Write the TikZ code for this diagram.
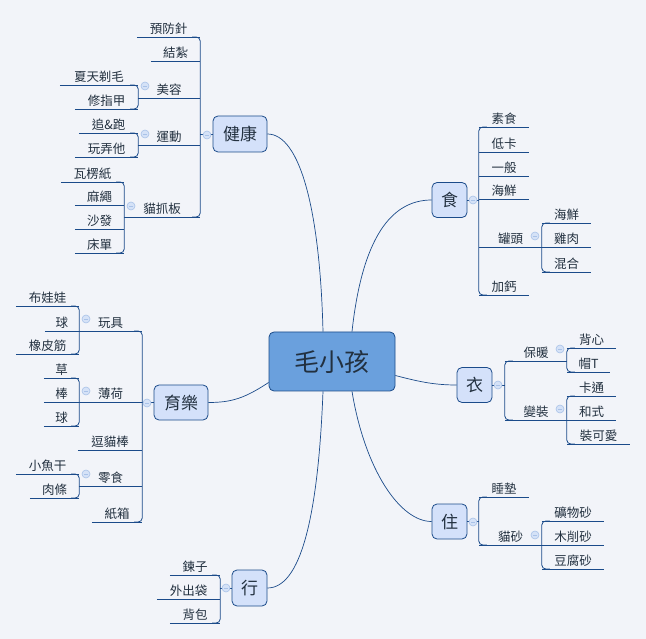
\documentclass[tikz,border=0pt]{standalone}
\usepackage{fontspec}
\newfontfamily\cjk{Noto Sans CJK TC}
\usetikzlibrary{calc}
\definecolor{bg}{HTML}{F2F4F9}
\definecolor{ln}{HTML}{1B4B8A}
\definecolor{bx}{HTML}{D4E1FA}
\definecolor{cbx}{HTML}{6AA0DD}
\definecolor{tx}{HTML}{22303F}
\definecolor{cf}{HTML}{D5E2F7}
\definecolor{cb}{HTML}{A9C2E8}
\tikzset{
  x=1pt,y=-1pt,
  conn/.style={draw=ln,line width=0.8pt},
  leaf/.style={anchor=south,inner xsep=0pt,inner ysep=2.5pt,font=\cjk\fontsize{12.5}{13}\selectfont,text=tx},
  box/.style={draw=ln,line width=0.8pt,fill=bx,rounded corners=5pt,inner sep=0pt,font=\cjk\fontsize{17}{18}\selectfont,text=tx},
  fold/.style={circle,draw=cb,fill=cf,line width=0.6pt,minimum size=8pt,inner sep=0pt,
     path picture={\draw[cb,line width=0.6pt] ($(path picture bounding box.west)+(2pt,0)$) -- ($(path picture bounding box.east)+(-2pt,0)$);}},
}
\newcommand\lf[5]{\node[leaf,minimum width={(#3-#2)*1pt}] (#1) at ({(#2+#3)/2},#4) {#5};
  \draw[conn] (#1.south west) -- (#1.south east);}
\newcommand\rsp[2]{\draw[conn,rounded corners=4pt] ($(#1.south west)+(8,0)$) -| (#2.south west) -- ++(8,0);}
\newcommand\lsp[2]{\draw[conn,rounded corners=4pt] ($(#1.south east)+(-8,0)$) -| (#2.south east) -- ++(-8,0);}
\begin{document}
\begin{tikzpicture}
\useasboundingbox[fill=bg] (0,0) rectangle (646,639);
% central
\node[box,fill=cbx,minimum width=126pt,minimum height=59pt,font=\cjk\fontsize{25}{26}\selectfont] (c) at (332,361.5) {毛小孩};
\node[box,minimum width=54pt,minimum height=36pt] (hk) at (240,134) {健康};
\node[box,minimum width=35pt,minimum height=35pt] (sh) at (449.5,200) {食};
\node[box,minimum width=35pt,minimum height=35pt] (yi) at (474.5,385) {衣};
\node[box,minimum width=35pt,minimum height=35pt] (zh) at (449.5,521.5) {住};
\node[box,minimum width=35pt,minimum height=36pt] (xg) at (249.5,588) {行};
\node[box,minimum width=54pt,minimum height=35pt] (yl) at (181,402.5) {育樂};
% curves
\draw[conn,line width=0.7pt] ($(c.north)+(-9,0)$) .. controls (320,210) and (300,134) .. (hk.east);
\draw[conn,line width=0.7pt] ($(c.north)+(20,0)$) .. controls (362,240) and (390,200) .. (sh.west);
\draw[conn,line width=0.7pt] ($(c.south)+(-9,0)$) .. controls (318,520) and (300,588) .. (xg.east);
\draw[conn,line width=0.7pt] ($(c.south)+(20,0)$) .. controls (365,470) and (400,521.5) .. (zh.west);
\draw[conn,line width=0.7pt] ($(c.east)+(0,14)$) .. controls (420,382) and (435,385) .. (yi.west);
\draw[conn,line width=0.7pt] ($(c.west)+(0,21)$) .. controls (245,398) and (232,402.5) .. (yl.east);
% health
\lf{h1}{137}{200}{37}{預防針}
\lf{h2}{151}{200}{61}{結紮}
\lf{h3}{138}{200}{98}{美容}
\lf{h4}{138}{200}{145}{運動}
\lf{h5}{124}{200}{217}{貓抓板}
\lsp{h1}{h5}
\draw[conn] (hk.west) -- (hk.west -| h1.south east);
\lf{h31}{60}{138}{85}{夏天剃毛}
\lf{h32}{75}{138}{109}{修指甲}
\lsp{h31}{h32}
\lf{h41}{79}{138}{133}{追\&跑}
\lf{h42}{75}{138}{157}{玩弄他}
\lsp{h41}{h42}
\lf{h51}{61}{124}{182}{瓦楞紙}
\lf{h52}{75}{124}{205}{麻繩}
\lf{h53}{75}{124}{229}{沙發}
\lf{h54}{75}{124}{253}{床單}
\lsp{h51}{h54}
% food
\lf{s1}{479}{529}{127}{素食}
\lf{s2}{479}{529}{152}{低卡}
\lf{s3}{479}{529}{176}{一般}
\lf{s4}{479}{529}{199}{海鮮}
\lf{s5}{479}{542}{247}{罐頭}
\lf{s6}{479}{529}{295}{加鈣}
\rsp{s1}{s6}
\draw[conn] (sh.east) -- (sh.east -| s1.south west);
\lf{s51}{542}{591}{223}{海鮮}
\lf{s52}{542}{591}{247}{雞肉}
\lf{s53}{542}{591}{272}{混合}
\rsp{s51}{s53}
% clothes
\lf{y1}{505}{567}{361}{保暖}
\lf{y2}{505}{567}{420}{變裝}
\rsp{y1}{y2}
\draw[conn] (yi.east) -- (yi.east -| y1.south west);
\lf{y11}{567}{616}{348}{背心}
\lf{y12}{567}{610}{372}{帽T}
\rsp{y11}{y12}
\lf{y21}{567}{616}{396}{卡通}
\lf{y22}{567}{616}{420}{和式}
\lf{y23}{567}{630}{444}{裝可愛}
\rsp{y21}{y23}
% live
\lf{z1}{479}{529}{497}{睡墊}
\lf{z2}{479}{542}{545}{貓砂}
\rsp{z1}{z2}
\draw[conn] (zh.east) -- (zh.east -| z1.south west);
\lf{z21}{542}{604}{521}{礦物砂}
\lf{z22}{542}{604}{545}{木削砂}
\lf{z23}{542}{604}{569}{豆腐砂}
\rsp{z21}{z23}
% go
\lf{x1}{170}{220}{575}{鍊子}
\lf{x2}{157}{220}{599}{外出袋}
\lf{x3}{170}{220}{623}{背包}
\lsp{x1}{x3}
\draw[conn] (xg.west) -- (xg.west -| x1.south east);
% play
\lf{p1}{79}{142}{331}{玩具}
\lf{p2}{79}{142}{402}{薄荷}
\lf{p3}{78}{142}{450}{逗貓棒}
\lf{p4}{79}{142}{486}{零食}
\lf{p5}{92}{142}{522}{紙箱}
\lsp{p1}{p5}
\draw[conn] (yl.west) -- (yl.west -| p1.south east);
\lf{p11}{16}{79}{306}{布娃娃}
\lf{p12}{45}{79}{331}{球}
\lf{p13}{16}{79}{354}{橡皮筋}
\lsp{p11}{p13}
\lf{p21}{44}{79}{378}{草}
\lf{p22}{44}{79}{402}{棒}
\lf{p23}{44}{79}{426}{球}
\lsp{p21}{p23}
\lf{p41}{16}{79}{474}{小魚干}
\lf{p42}{30}{79}{498}{肉條}
\lsp{p41}{p42}
% fold markers
\foreach \n/\p in {f1/{207,135},f2/{145,86},f3/{145,134},f4/{131,206},f5/{473,200},f6/{535,236},f7/{498,385},f8/{560,349},f9/{560,409},f10/{473,522},f11/{535,535},f12/{226,588},f13/{147,403},f14/{86,319},f15/{86,391},f16/{86,474}}
  \node[fold] (\n) at (\p) {};
\end{tikzpicture}
\end{document}
